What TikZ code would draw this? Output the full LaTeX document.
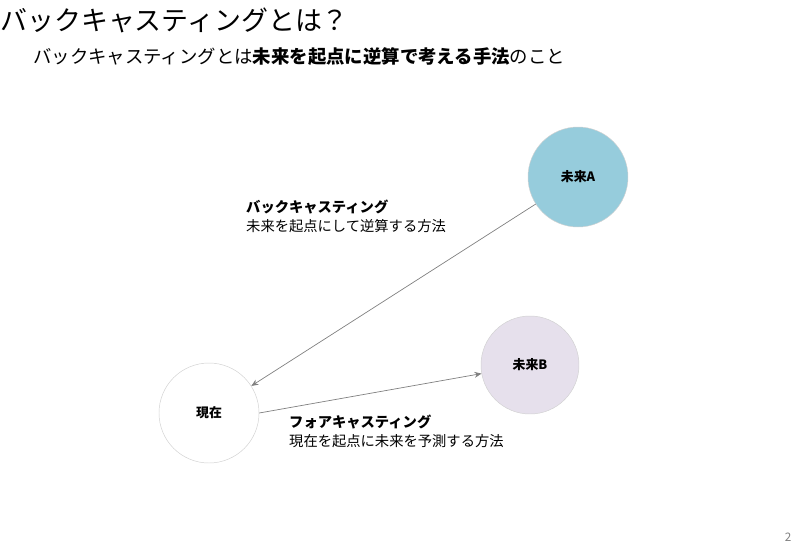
\documentclass[tikz,border=0pt]{standalone}
\usepackage{fontspec}
\setmainfont{Noto Sans CJK JP}
\usetikzlibrary{arrows.meta}
\definecolor{cA}{HTML}{96CCDC}
\definecolor{cB}{HTML}{E6E0EC}
\tikzset{
  circ/.style={circle,minimum size=100\px,inner sep=0pt,draw=black!18,font=\fontsize{11}{13}\selectfont\bfseries},
  conn/.style={draw=black!50,-{Stealth[length=6pt,width=5pt]},line width=0.6pt},
  lbl/.style={anchor=west,inner sep=0pt,align=left,font=\fontsize{12.2}{16}\selectfont}
}
\newlength{\px}\setlength{\px}{0.03cm}
\begin{document}
\begin{tikzpicture}[x=0.03cm,y=-0.03cm]
\useasboundingbox (0,0) rectangle (800,551);
\node[anchor=west,inner sep=0pt,font=\fontsize{23}{26}\selectfont] (t) at (0,20) {バックキャスティングとは？};
\node[anchor=west,inner sep=0pt,font=\fontsize{15.7}{18}\selectfont] (s) at (33,57) {バックキャスティングとは\textbf{未来を起点に逆算で考える手法}のこと};
\node[circ,fill=cA] (A) at (578,177) {未来A};
\node[circ,fill=cB,minimum size=98\px] (B) at (530,365) {未来B};
\node[circ,fill=white] (N) at (209,413) {現在};
\draw[conn] (A) -- (N);
\draw[conn] (N.east) -- (B);
\node[lbl] (l1) at (246,216) {\textbf{バックキャスティング}\\未来を起点にして逆算する方法};
\node[lbl] (l2) at (289,431) {\textbf{フォアキャスティング}\\現在を起点に未来を予測する方法};
\node[anchor=center,inner sep=0pt,text=black!50,font=\fontsize{10}{12}\selectfont] (p) at (788,537) {2};
\end{tikzpicture}
\end{document}
